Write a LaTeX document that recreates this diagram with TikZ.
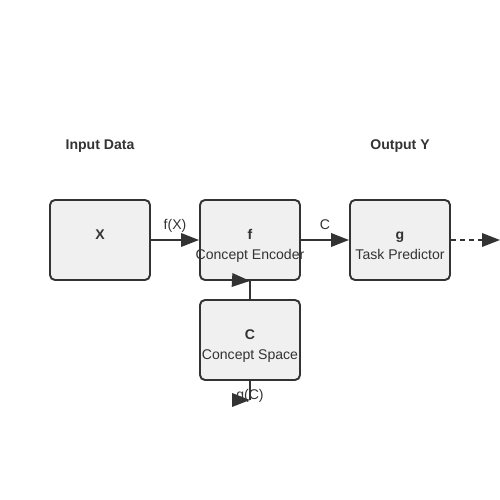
\documentclass[tikz,border=0pt]{standalone}
\usepackage{fontspec}
\setmainfont{Liberation Sans}
\usetikzlibrary{arrows.meta}
\definecolor{ink}{HTML}{333333}
\definecolor{boxfill}{HTML}{F0F0F0}
\tikzset{
  block/.style={draw=ink, fill=boxfill, line width=1.1pt, rounded corners=0.1cm,
    minimum width=2cm, minimum height=1.6cm, inner sep=0pt},
  flow/.style={draw=ink, line width=1.1pt, -{Triangle[length=0.36cm,width=0.27cm]}},
  title/.style={font=\fontsize{8}{10}\selectfont\bfseries},
}
\begin{document}
\begin{tikzpicture}[every node/.style={text=ink, font=\fontsize{8}{10}\selectfont, anchor=base, inner sep=0pt}]
        \useasboundingbox (0,0) rectangle (10,10);

        \node[title] (inhead) at (2,7.0) {Input Data};
        \node[title] (outhead) at (8,7.0) {Output Y};

        \node[block, anchor=center] (input) at (2,5.2) {};
        \node[block, anchor=center] (encoder) at (5,5.2) {};
        \node[block, anchor=center] (predictor) at (8,5.2) {};
        \node[block, anchor=center] (space) at (5,3.2) {};

        \node[title] (inputname) at (2,5.2) {X};
        \node[title] (encodername) at (5,5.2) {f};
        \node (encodertext) at (5,4.8) {Concept Encoder};
        \node[title] (predictorname) at (8,5.2) {g};
        \node (predictortext) at (8,4.8) {Task Predictor};
        \node[title] (spacename) at (5,3.2) {C};
        \node (spacetext) at (5,2.8) {Concept Space};

        \coordinate (out) at (10,5.2);
        \coordinate (back) at (5,2.0);
        \coordinate (backtail) at (4.64,2.0);
        \coordinate (uptail) at (4.64,4.4);

        \draw[flow] (input) -- node[midway, yshift=0.2cm] (fx) {f(X)} (encoder);
        \draw[flow] (encoder) -- node[midway, yshift=0.2cm] (cl) {C} (predictor);
        \draw[flow, dash pattern=on 0.1cm off 0.08cm] (predictor) -- (out);
        \draw[draw=ink, line width=1.1pt] (space.north) -- (encoder.south);
        \draw[flow] (uptail) -- (encoder.south);
        \draw[draw=ink, line width=1.1pt] (space.south) -- (back);
        \draw[flow] (backtail) -- (back);
        \node (gc) at (5,2.0) {g(C)};
    \end{tikzpicture}
\end{document}
